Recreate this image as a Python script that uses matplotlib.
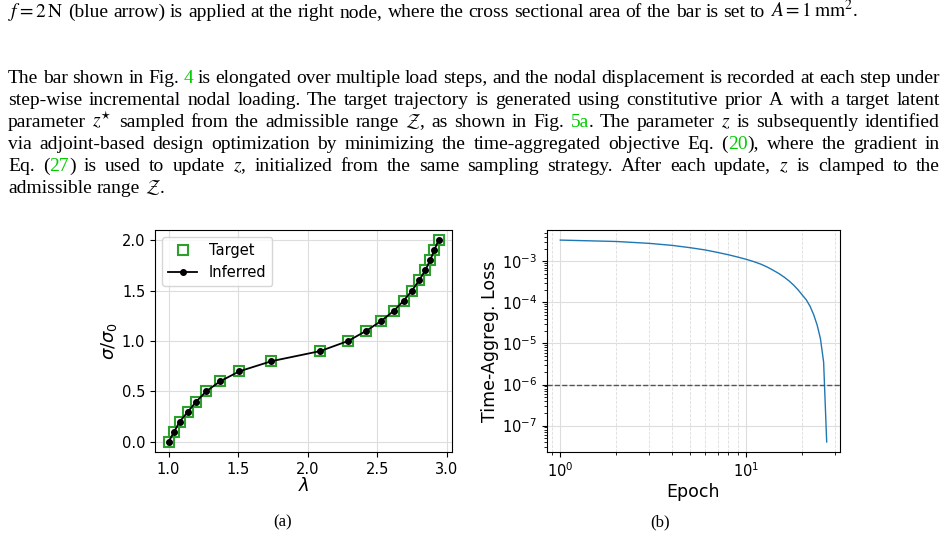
import matplotlib
matplotlib.use("Agg")
import matplotlib.pyplot as plt
import re

stress = [0.0,0.1,0.2,0.3,0.4,0.5,0.6,0.7,0.8,0.9,1.0,1.1,1.2,1.3,1.4,1.5,1.6,1.7,1.8,1.9,2.0]
stretch = [1.0,1.04,1.08,1.14,1.20,1.27,1.37,1.51,1.74,2.09,2.29,2.42,2.53,2.62,2.69,2.75,2.80,2.845,2.88,2.91,2.94]
epochs = list(range(1, 28))
loss = [3.3e-3,3.05e-3,2.75e-3,2.45e-3,2.15e-3,1.9e-3,1.65e-3,1.45e-3,1.27e-3,1.12e-3,
        9.8e-4,8.5e-4,7.2e-4,6.0e-4,5.0e-4,4.1e-4,3.3e-4,2.6e-4,2.0e-4,1.5e-4,
        1.15e-4,8e-5,5e-5,2.8e-5,1.3e-5,3.5e-6,4e-8]
threshold = 1e-6

W, H = 949, 538
fig = plt.figure(figsize=(W/100, H/100), dpi=100)
plt.rcParams['mathtext.fontset'] = 'dejavusans'

def ax_rect(x0, y0, x1, y1):
    return [x0/W, 1-y1/H, (x1-x0)/W, (y1-y0)/H]

axL = fig.add_axes(ax_rect(155, 230, 452, 452))
axL.plot(stretch, stress, 's', ms=7, mfc='none', mec='#2ca02c', mew=1.5, label='Target', color='green')
axL.plot(stretch, stress, '-o', color='black', ms=4, lw=1.3, label='Inferred')
axL.set_xticks([1.0,1.5,2.0,2.5,3.0])
axL.set_yticks([0.0,0.5,1.0,1.5,2.0])
axL.grid(True, color='#dddddd', lw=0.8)
axL.set_xlabel(r'$\lambda$', fontsize=13, labelpad=0)
axL.set_ylabel(r'$\sigma/\sigma_0$', fontsize=13, labelpad=2)
axL.tick_params(labelsize=10.5)
axL.legend(loc='upper left', fontsize=10.5)

axR = fig.add_axes(ax_rect(547, 230, 840, 452))
axR.plot(epochs, loss, color='#1f77b4', lw=1)
axR.axhline(threshold, color='#555555', ls='--', lw=1)
axR.set_xscale('log'); axR.set_yscale('log')
axR.set_yticks([1e-7,1e-6,1e-5,1e-4,1e-3])
axR.grid(True, which='major', color='#dddddd', lw=0.8)
axR.grid(True, which='minor', axis='x', color='#dddddd', ls='--', lw=0.6)
axR.set_xlabel('Epoch', fontsize=12.5, labelpad=2)
axR.set_ylabel('Time-Aggreg. Loss', fontsize=12.5, labelpad=2)
axR.tick_params(labelsize=10.5)

fig.text(283/W, 1-522/H, '(a)', fontsize=12, family='Liberation Serif', ha='center', va='center')
fig.text(660/W, 1-522/H, '(b)', fontsize=12, family='Liberation Serif', ha='center', va='center')

fig.canvas.draw()
r = fig.canvas.get_renderer()
G = '#00cc00'
FS = 14

def seg_text(x, y, s, c):
    return fig.text(x/W, 1-y/H, s, fontsize=FS, family='Liberation Serif', color=c,
                    va='baseline', math_fontfamily='stix')

def word_parts(w):
    parts = []
    for i, p in enumerate(re.split(r'\[\[|\]\]', w)):
        if p:
            parts.append((p, G if i % 2 == 1 else 'black'))
    return parts

def width(t):
    return t.get_window_extent(r).width

def line(y, s, justify=True, x0=8, x1=940):
    words = s.split(' ')
    texts, widths = [], []
    for w in words:
        ts = [seg_text(0, y, p, c) for p, c in word_parts(w)]
        texts.append(ts); widths.append(sum(width(t) for t in ts))
    a2 = seg_text(0, y, 'a a', 'black'); a1 = seg_text(0, y, 'a', 'black')
    gap = width(a2) - 2*width(a1)
    a2.remove(); a1.remove()
    if justify and len(words) > 1:
        gap = (x1 - x0 - sum(widths)) / (len(words) - 1)
    x = x0
    for ts in texts:
        for t in ts:
            t.set_x(x/W)
            x += width(t)
        x += gap

line(17, r'$f=2\,\mathrm{N}$ (blue arrow) is applied at the right node, where the cross sectional area of the bar is set to $A=1\,\mathrm{mm}^2$.', justify=False)
line(83, 'The bar shown in Fig. [[4]] is elongated over multiple load steps, and the nodal displacement is recorded at each step under')
line(105, 'step-wise incremental nodal loading. The target trajectory is generated using constitutive prior A with a target latent')
line(127, r'parameter $z^{\star}$ sampled from the admissible range $\mathcal{Z}$, as shown in Fig. [[5a]]. The parameter $z$ is subsequently identified')
line(149, 'via adjoint-based design optimization by minimizing the time-aggregated objective Eq. ([[20]]), where the gradient in')
line(171, r'Eq. ([[27]]) is used to update $z$, initialized from the same sampling strategy. After each update, $z$ is clamped to the')
line(193, r'admissible range $\mathcal{Z}$.', justify=False)

fig.savefig('out.png', dpi=100)
